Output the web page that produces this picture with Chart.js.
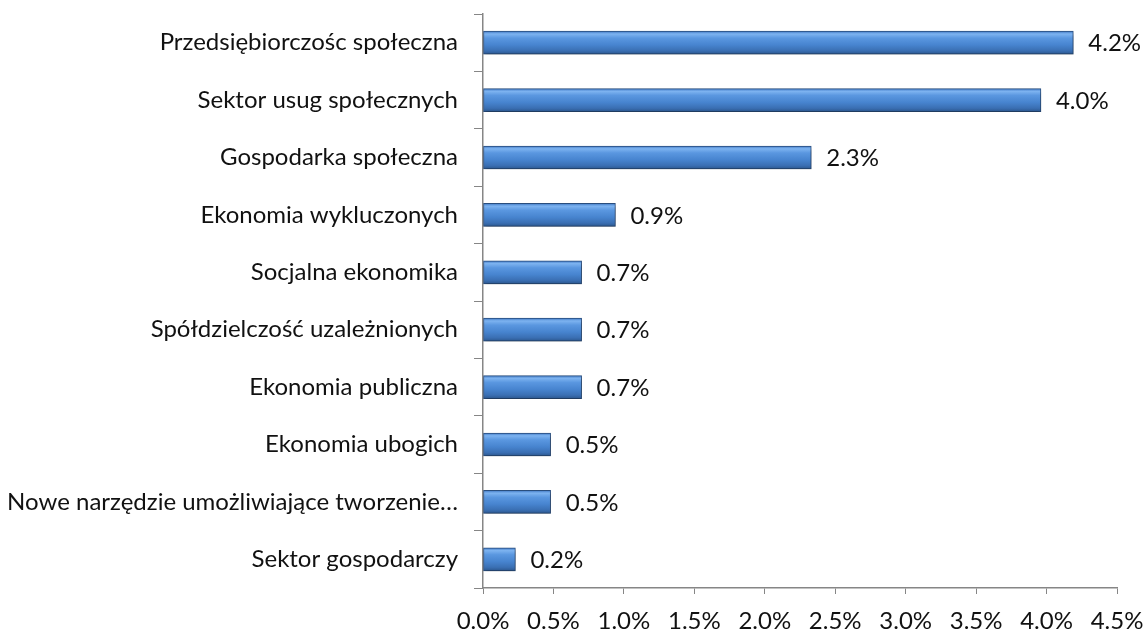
<!DOCTYPE html>
<html>
<head>
<meta charset="utf-8">
<script src="https://cdn.jsdelivr.net/npm/chart.js@4"></script>
<style>
  html, body { margin: 0; padding: 0; background: #fff; }
  #wrap { width: 1146px; height: 632px; }
</style>
</head>
<body>
<div id="wrap"><canvas id="chart" width="1146" height="632"></canvas></div>
<script>
const categories = [
  "Przedsiębiorczośc społeczna",
  "Sektor usug społecznych",
  "Gospodarka społeczna",
  "Ekonomia wykluczonych",
  "Socjalna ekonomika",
  "Spółdzielczość uzależnionych",
  "Ekonomia publiczna",
  "Ekonomia ubogich",
  "Nowe narzędzie umożliwiające tworzenie…",
  "Sektor gospodarczy",
];
const values = [4.19, 3.96, 2.33, 0.94, 0.7, 0.7, 0.7, 0.48, 0.48, 0.23];
const valueLabels = ["4.2%", "4.0%", "2.3%", "0.9%", "0.7%", "0.7%", "0.7%", "0.5%", "0.5%", "0.2%"];
const xTicks = [0, 0.5, 1, 1.5, 2, 2.5, 3, 3.5, 4, 4.5];

const FONT = "Lato, 'Open Sans', sans-serif";
const FONT_SIZE = 24;
const AXIS = "#868686";
const BAR_H = 23;

// vertical gradient per bar, lighter band near the top like the reference
function barFill(c) {
  const y = c.chart.scales.y;
  if (c.type !== "data" || !y) return "#4a86d0";
  const cy = y.getPixelForValue(c.dataIndex);
  if (!Number.isFinite(cy)) return "#4a86d0";
  const g = c.chart.ctx.createLinearGradient(0, cy - BAR_H / 2, 0, cy + BAR_H / 2);
  g.addColorStop(0, "#3f78c4");
  g.addColorStop(0.12, "#7db3f0");
  g.addColorStop(0.3, "#5a97e0");
  g.addColorStop(0.6, "#4784cf");
  g.addColorStop(0.85, "#3a6fb3");
  g.addColorStop(1, "#2c578e");
  return g;
}

// drop the extra room Chart.js keeps for overhanging tick labels
function noOverhang(s) {
  s.paddingTop = 0;
  s.paddingBottom = 0;
  s.paddingLeft = 0;
  s.paddingRight = 0;
}

const barShadow = {
  id: "barShadow",
  beforeDatasetsDraw(chart) {
    const { ctx } = chart;
    ctx.save();
    ctx.shadowColor = "rgba(0,0,0,0.28)";
    ctx.shadowBlur = 4;
    ctx.shadowOffsetY = 3;
    ctx.shadowOffsetX = 1;
  },
  afterDatasetsDraw(chart) {
    chart.ctx.restore();
  },
};

const valueLabelPlugin = {
  id: "valueLabels",
  afterDatasetsDraw(chart) {
    const { ctx } = chart;
    const meta = chart.getDatasetMeta(0);
    ctx.save();
    ctx.font = FONT_SIZE + "px " + FONT;
    ctx.fillStyle = "#111";
    ctx.textAlign = "left";
    ctx.textBaseline = "middle";
    meta.data.forEach((bar, i) => {
      ctx.fillText(valueLabels[i], bar.x + 15, bar.y + 1);
    });
    ctx.restore();
  },
};

new Chart(document.getElementById("chart"), {
  type: "bar",
  data: {
    labels: categories,
    datasets: [{
      data: values,
      backgroundColor: barFill,
      borderColor: "#2a4f80",
      borderWidth: 1,
      borderSkipped: false,
      barThickness: BAR_H,
    }],
  },
  options: {
    indexAxis: "y",
    responsive: false,
    animation: false,
    layout: { padding: { top: 14, right: 29, left: 0, bottom: 0 } },
    plugins: { legend: { display: false }, tooltip: { enabled: false } },
    scales: {
      x: {
        min: 0,
        max: 4.5,
        afterBuildTicks: (s) => { s.ticks = xTicks.map((v) => ({ value: v })); },
        afterFit: (s) => { s.height = 44; noOverhang(s); },
        grid: { drawOnChartArea: false, tickLength: 6, color: AXIS },
        border: { color: AXIS, width: 1.5 },
        ticks: {
          color: "#111",
          font: { family: FONT, size: FONT_SIZE },
          padding: 13,
          maxRotation: 0,
          callback: (v) => v.toFixed(1) + "%",
        },
      },
      y: {
        afterFit: (s) => { s.width = 483; noOverhang(s); },
        grid: { drawOnChartArea: false, tickLength: 9, color: AXIS, offset: true },
        border: { color: AXIS, width: 1.5 },
        ticks: {
          color: "#111",
          font: { family: FONT, size: FONT_SIZE },
          padding: 16,
        },
      },
    },
  },
  plugins: [barShadow, valueLabelPlugin],
});
</script>
</body>
</html>
